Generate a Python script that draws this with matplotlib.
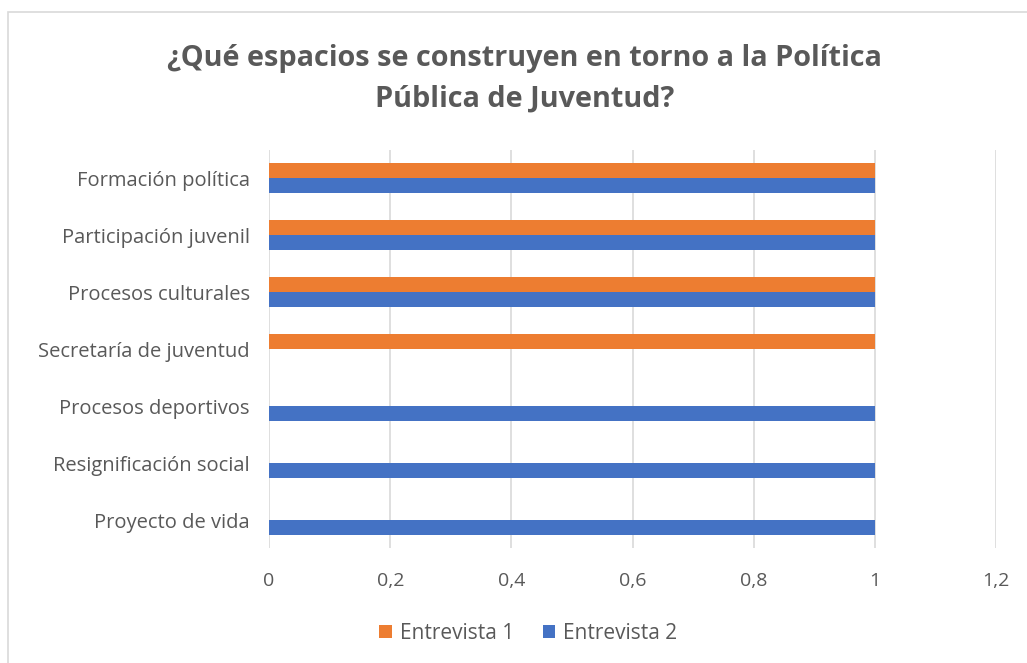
import matplotlib.pyplot as plt
from matplotlib.patches import Rectangle
import numpy as np

categories = ["Formación política", "Participación juvenil", "Procesos culturales",
              "Secretaría de juventud", "Procesos deportivos", "Resignificación social",
              "Proyecto de vida"]
entrevista_1 = [1, 1, 1, 1, 0, 0, 0]
entrevista_2 = [1, 1, 1, 0, 1, 1, 1]
x_ticks = [0, 0.2, 0.4, 0.6, 0.8, 1.0, 1.2]
x_labels = ["0", "0,2", "0,4", "0,6", "0,8", "1", "1,2"]

plt.rcParams['font.family'] = ['Open Sans', 'DejaVu Sans']
text_col = "#595959"

fig = plt.figure(figsize=(10.27, 6.63), dpi=100)
ax = fig.add_axes([0.262, 0.1727, 0.708, 0.6018])

# chart border
fig.patches.append(Rectangle((8 / 1027, -0.01), 1.0, 1 - 12 / 663 + 0.01,
                             transform=fig.transFigure, fill=False,
                             edgecolor="#d9d9d9", lw=1.2))

y = np.arange(len(categories))
h = 0.255
ax.barh(y - h / 2, entrevista_1, height=h, color="#ED7D31", label="Entrevista 1", zorder=3)
ax.barh(y + h / 2, entrevista_2, height=h, color="#4472C4", label="Entrevista 2", zorder=3)

ax.set_ylim(len(categories) - 0.5, -0.5)
ax.set_xlim(0, 1.2)
ax.set_yticks(y)
ax.set_yticklabels(categories, fontsize=14.5, color=text_col)
ax.set_xticks(x_ticks)
ax.set_xticklabels(x_labels, fontsize=14, color=text_col)
ax.tick_params(length=0)
ax.tick_params(axis='y', pad=14)
ax.tick_params(axis='x', pad=17)
ax.grid(axis='x', color="#d9d9d9", lw=1.2, zorder=0)
for s in ax.spines.values():
    s.set_visible(False)

fig.text(0.511, 0.881, "¿Qué espacios se construyen en torno a la Política\nPública de Juventud?",
         ha="center", va="center", fontsize=20.8, fontweight="bold", color=text_col,
         linespacing=1.5)

leg = fig.legend(loc="center", bbox_to_anchor=(0.5146, 0.045), ncol=2, frameon=False,
                 fontsize=15, handlelength=0.6, handleheight=0.6, columnspacing=1.35,
                 handletextpad=0.4)
for t in leg.get_texts():
    t.set_color(text_col)

fig.savefig("out.png", dpi=100, facecolor="white")
